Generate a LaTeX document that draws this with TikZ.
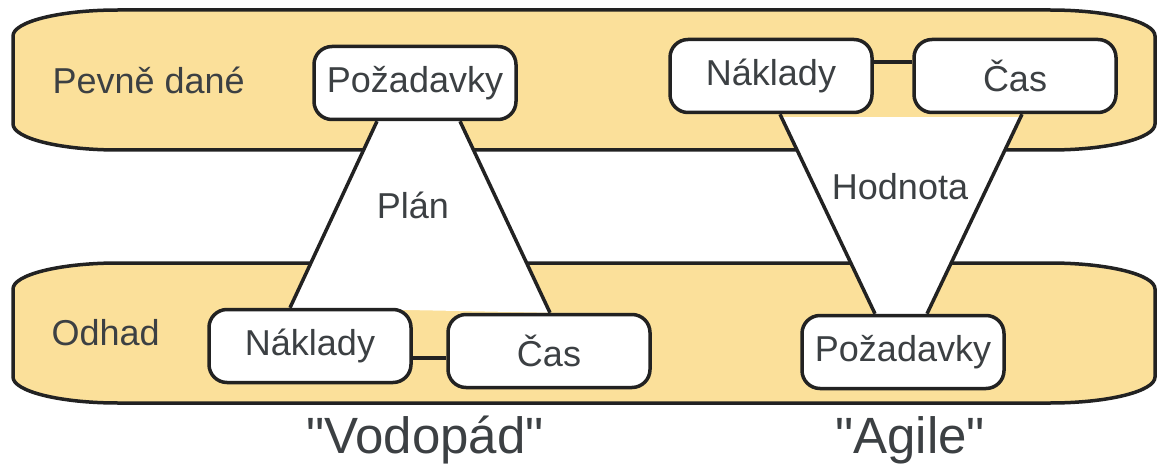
\documentclass[tikz,border=0pt]{standalone}
\usepackage{fontspec}
\setmainfont{Liberation Sans}
\usetikzlibrary{backgrounds}
\definecolor{bandfill}{HTML}{FBE09A}
\definecolor{ink}{HTML}{3C4043}
\definecolor{edge}{HTML}{222222}
\begin{document}
\begin{tikzpicture}[x=1pt, y=1pt,
    box/.style={draw=edge, line width=3.5pt, fill=white, rounded corners=18pt,
        minimum width=202pt, minimum height=73pt, text=ink, font=\fontsize{36}{40}\selectfont},
    band/.style={draw=edge, line width=3.5pt, fill=bandfill},
    side/.style={draw=edge, line width=3.5pt},
    lbl/.style={text=ink, font=\fontsize{36}{40}\selectfont},
    big/.style={text=ink, font=\fontsize{51}{58}\selectfont}]
    \useasboundingbox (0,0) rectangle (1158,472);
    % boxes
    \node[box] (reqW) at (415,389) {Požadavky};
    \node[box] (costW) at (310,126) {Náklady};
    \node[box] (timeW) at (549,121) {Čas};
    \node[box] (costA) at (771,396) {Náklady};
    \node[box] (timeA) at (1015,396) {Čas};
    \node[box] (reqA) at (903,120) {Požadavky};
    \draw[side] ([yshift=14pt]costA.east) -- ([yshift=14pt]timeA.west);
    \draw[side] ([yshift=-12pt]costW.east) -- ([yshift=-12pt]costW.east -| timeW.west);
    % labels
    \node[lbl, anchor=west] (fixed) at (49,392) {Pevně dané};
    \node[lbl, anchor=west] (guess) at (48,139) {Odhad};
    \node[lbl] (plan) at (413,267) {Plán};
    \node[lbl] (value) at (900,285) {Hodnota};
    \node[big] (water) at (425,32) {\textquotedbl Vodopád\textquotedbl};
    \node[big] (agile) at (910,32) {\textquotedbl Agile\textquotedbl};
    \begin{pgfonlayer}{background}
        % bands
        \foreach \lo/\hi in {322/462, 69/209} {
            \draw[band] (118,\hi) -- (1050,\hi)
                arc[start angle=90, end angle=0, x radius=105, y radius=26]
                -- (1155,\lo+26)
                arc[start angle=0, end angle=-90, x radius=105, y radius=26]
                -- (118,\lo)
                arc[start angle=270, end angle=180, x radius=105, y radius=26]
                -- (13,\hi-26)
                arc[start angle=180, end angle=90, x radius=105, y radius=26]
                -- cycle;
        }
        % triangles
        \fill[white] ([xshift=-38pt]reqW.south) -- ([xshift=-20pt]costW.north)
            -- ([xshift=1pt]timeW.north) -- ([xshift=45pt]reqW.south) -- cycle;
        \draw[side] ([xshift=-38pt]reqW.south) -- ([xshift=-20pt]costW.north);
        \draw[side] ([xshift=45pt]reqW.south) -- ([xshift=1pt]timeW.north);
        \fill[white] ([xshift=9pt,yshift=-3pt]costA.south) -- ([xshift=-28pt]reqA.north)
            -- ([xshift=24pt]reqA.north) -- ([xshift=7pt,yshift=-3pt]timeA.south) -- cycle;
        \draw[side] ([xshift=9pt]costA.south) -- ([xshift=-28pt]reqA.north);
        \draw[side] ([xshift=7pt]timeA.south) -- ([xshift=24pt]reqA.north);
    \end{pgfonlayer}
\end{tikzpicture}
\end{document}
